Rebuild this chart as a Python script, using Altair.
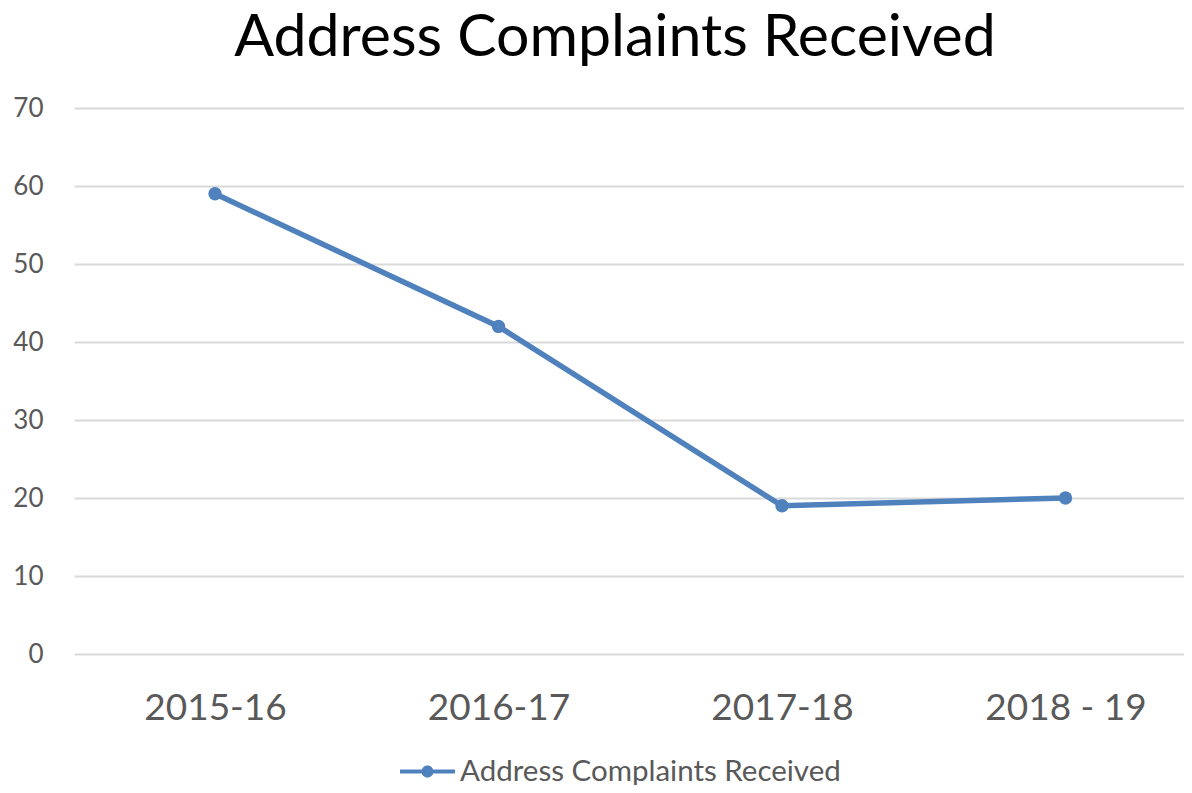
import altair as alt
import pandas as pd

years = ["2015-16", "2016-17", "2017-18", "2018 - 19"]
complaints = [59, 42, 19, 20]
series_name = "Address Complaints Received"

df = pd.DataFrame({"year": years, "value": complaints, "series": [series_name] * len(years)})

BLUE = "#4F81BD"
GRAY = "#595959"
FONT = "Lato"

x = alt.X("year:N", sort=years, title=None,
          scale=alt.Scale(type="point", padding=0.4577, align=0.5434),
          axis=alt.Axis(labelAngle=0, labelFontSize=37, labelColor=GRAY, labelFont=FONT,
                        ticks=False, domain=False, grid=False, labelPadding=36))
y = alt.Y("value:Q", title=None,
          scale=alt.Scale(domain=[0, 70], nice=False, zero=True),
          axis=alt.Axis(values=[0, 10, 20, 30, 40, 50, 60, 70], labelFontSize=26, labelColor=GRAY,
                        labelFont=FONT, ticks=False, domain=False, grid=True, gridColor="#D9D9D9",
                        gridWidth=2, labelPadding=31))

line = alt.Chart(df).mark_line(color=BLUE, strokeWidth=5.5).encode(x=x, y=y)

legend_path = ("M-1,-0.075H-0.2V0.075H-1Z "
               "M0.2,-0.075H1V0.075H0.2Z "
               "M0.22,0A0.22,0.22,0,1,1,-0.22,0A0.22,0.22,0,1,1,0.22,0Z")

points = alt.Chart(df).mark_circle(size=180, opacity=1).encode(
    x=x, y=y,
    color=alt.Color("series:N", scale=alt.Scale(range=[BLUE]),
                    legend=alt.Legend(title=None, orient="none", legendX=326, legendY=636,
                                      symbolType=legend_path, symbolSize=3025,
                                      symbolStrokeWidth=0, symbolOpacity=1,
                                      labelFontSize=29.5, labelColor=GRAY, labelFont=FONT,
                                      labelOffset=5, labelLimit=0, padding=0))
)

chart = (line + points).properties(
    width=1110, height=546,
    title=alt.TitleParams(series_name, fontSize=59, font=FONT, fontWeight="normal",
                          color="#000000", anchor="middle", baseline="alphabetic", offset=-20, dx=-14),
    autosize=alt.AutoSizeParams(type="none"),
    padding={"left": 66, "top": 100, "right": 0, "bottom": 131},
).configure_view(stroke=None)

chart.save("out.html", embed_options={"renderer": "svg", "actions": False})
